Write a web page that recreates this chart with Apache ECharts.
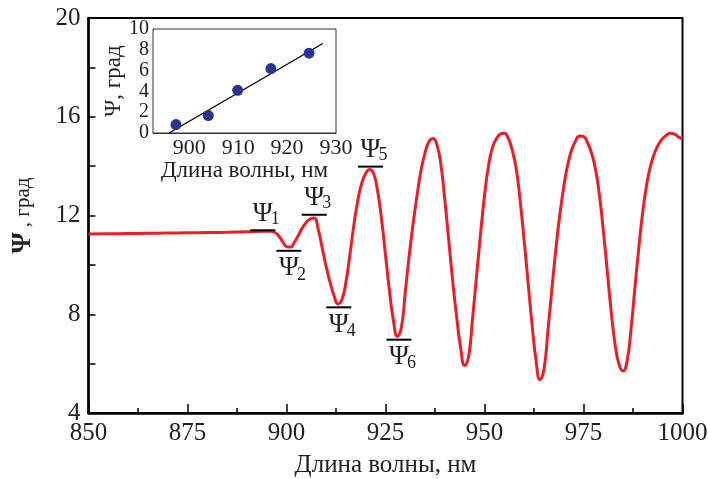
<!DOCTYPE html>
<html><head><meta charset="utf-8">
<script src="https://cdn.jsdelivr.net/npm/echarts@6/dist/echarts.min.js"></script>
<style>html,body{margin:0;padding:0;background:#fff}#c{width:708px;height:479px}</style>
</head><body><div id="c"></div>
<script>
// Main curve: wavelength (nm) and Ψ (deg)
const waveX = [850, 855, 860, 865, 870, 875, 880, 885, 890, 895,
  896, 897, 898, 899, 900, 901, 902, 903, 904, 905, 906, 907, 908, 909, 910,
  911, 912, 913, 914, 915, 916, 917, 918, 919, 920, 921, 922, 923, 924, 925,
  926, 927, 928, 929, 930, 931, 932, 933, 934, 935, 936, 937, 938, 939, 940,
  941, 942, 943, 944, 945, 946, 947, 948, 949, 950, 951, 952, 953, 954, 955,
  956, 957, 958, 959, 960, 961, 962, 963, 964, 965, 966, 967, 968, 969, 970,
  971, 972, 973, 974, 975, 976, 977, 978, 979, 980, 981, 982, 983, 984, 985,
  986, 987, 988, 989, 990, 991, 992, 993, 994, 995, 996, 997, 998, 999, 1000];
const waveY = [11.25, 11.26, 11.27, 11.28, 11.29, 11.3, 11.31, 11.32, 11.34, 11.36,
  11.36, 11.32, 11.18, 10.95, 10.74, 10.72, 10.92, 11.2, 11.5, 11.72, 11.86, 11.9, 11.45, 10.7, 9.95,
  9.3, 8.75, 8.42, 8.6, 9.3, 10.4, 11.6, 12.6, 13.3, 13.7, 13.86, 13.7, 13.0, 11.85, 10.4,
  8.95, 7.75, 7.1, 7.45, 8.9, 10.4, 11.7, 12.85, 13.85, 14.55, 15.0, 15.12, 14.85, 14.05, 12.6,
  10.95, 9.3, 7.85, 6.6, 5.92, 6.3, 7.85, 9.55, 11.25, 12.8, 14.0, 14.75, 15.1, 15.3, 15.33,
  15.12, 14.65, 13.9, 12.6, 11.0, 9.3, 7.6, 6.15, 5.35, 5.75, 7.3, 9.0, 10.6, 12.0, 13.15,
  14.05, 14.65, 15.02, 15.22, 15.2, 14.95, 14.55, 13.9, 12.85, 11.4, 9.75, 8.1, 6.75, 5.95, 5.7,
  6.1, 7.4, 9.1, 10.75, 12.2, 13.3, 14.05, 14.55, 14.9, 15.12, 15.26, 15.33, 15.3, 15.18, 15.1];

// Ψ markers (bar level, label below or above)
const psiIdx = ['1', '2', '3', '4', '5', '6'];
const psiX = [894, 900.6, 907.0, 913.2, 921.2, 928.4];
const psiY = [11.4, 10.57, 12.03, 8.28, 13.98, 6.97];
const psiSide = [1, -1, 1, -1, 1, -1];

// Inset: measured Ψ vs wavelength, linear fit
const insetX = [897.3, 903.9, 909.9, 916.7, 924.5];
const insetY = [0.81, 1.68, 4.1, 6.19, 7.68];
const fitX = [895.9, 927.3];
const fitY = [0, 8.6];

// Tick labels
const mainXTicks = [850, 875, 900, 925, 950, 975, 1000];
const mainYTicks = [4, 8, 12, 16, 20];
const insetXTicks = [900, 910, 920, 930];
const insetYTicks = [0, 2, 4, 6, 8, 10];

const FONT = 'Liberation Serif';
const TXT = '#222';
const plain = v => String(v);

const chart = echarts.init(document.getElementById('c'), null, {renderer: 'canvas'});

const psiData = psiX.map((x, i) => [x, psiY[i], psiSide[i]]);

chart.setOption({
  animation: false,
  backgroundColor: '#fff',
  grid: [
    {left: 88.5, top: 18, right: 25.5, bottom: 66, show: true, borderColor: '#000', borderWidth: 2, z: 0,
     containLabel: false, outerBoundsMode: 'none'},
    {left: 153, top: 29, right: 372, bottom: 346, show: true, borderColor: '#333', borderWidth: 1, backgroundColor: '#fff', z: 5,
     containLabel: false, outerBoundsMode: 'none'}
  ],
  xAxis: [
    {gridIndex: 0, type: 'value', min: 850, max: 1000, interval: 25,
     name: 'Длина волны, нм', nameLocation: 'middle', nameGap: 40,
     nameTextStyle: {fontFamily: FONT, fontSize: 25, color: TXT},
     axisLine: {lineStyle: {color: '#000', width: 2.5}},
     axisTick: {inside: true, length: 9, lineStyle: {color: '#000', width: 1.5}},
     minorTick: {show: true, splitNumber: 2, length: 5, lineStyle: {color: '#000', width: 1.5}},
     splitLine: {show: false},
     axisLabel: {fontFamily: FONT, fontSize: 25, color: TXT, margin: 8, formatter: plain,
       customValues: mainXTicks, showMinLabel: true, showMaxLabel: true}},
    {gridIndex: 1, type: 'value', min: 892.6, max: 930,
     name: 'Длина волны, нм', nameLocation: 'middle', nameGap: 23,
     nameTextStyle: {fontFamily: FONT, fontSize: 23, color: TXT},
     axisLine: {lineStyle: {color: '#333', width: 1}},
     axisTick: {inside: true, length: 5, customValues: [900, 910, 920], lineStyle: {color: '#333'}},
     splitLine: {show: false},
     axisLabel: {fontFamily: FONT, fontSize: 22, color: TXT, margin: 4, formatter: plain,
       customValues: insetXTicks, showMinLabel: true, showMaxLabel: true, hideOverlap: false}}
  ],
  yAxis: [
    {gridIndex: 0, type: 'value', min: 4, max: 20, interval: 4,
     name: '{p|Ψ}{t| , град}', nameLocation: 'middle', nameGap: 52, nameRotate: 90,
     nameTextStyle: {fontFamily: FONT, fontSize: 21, color: TXT,
       rich: {p: {fontFamily: FONT, fontSize: 27, fontWeight: 'bold', color: TXT}, t: {fontFamily: FONT, fontSize: 21, color: TXT}}},
     axisLine: {lineStyle: {color: '#000', width: 2.5}},
     axisTick: {inside: true, length: 7, lineStyle: {color: '#000', width: 1.5}},
     minorTick: {show: true, splitNumber: 2, length: 7, lineStyle: {color: '#000', width: 1.5}},
     splitLine: {show: false},
     axisLabel: {fontFamily: FONT, fontSize: 25, color: TXT, margin: 8, formatter: plain,
       customValues: mainYTicks, showMinLabel: true, showMaxLabel: true}},
    {gridIndex: 1, type: 'value', min: 0, max: 10, interval: 2,
     name: 'Ψ, град', nameLocation: 'middle', nameGap: 27, nameRotate: 90,
     nameTextStyle: {fontFamily: FONT, fontSize: 23, color: TXT},
     axisLine: {lineStyle: {color: '#333', width: 1}},
     axisTick: {inside: true, length: 5, lineStyle: {color: '#333'}},
     splitLine: {show: false},
     axisLabel: {fontFamily: FONT, fontSize: 20, lineHeight: 16, color: TXT, margin: 4, formatter: plain,
       customValues: insetYTicks, showMinLabel: true, showMaxLabel: true, hideOverlap: false}}
  ],
  series: [
    {type: 'line', xAxisIndex: 0, yAxisIndex: 0, data: waveX.map((x, i) => [x, waveY[i]]),
     smooth: 0.5, symbol: 'none', lineStyle: {color: '#ee1c25', width: 3}, z: 2},
    {type: 'custom', xAxisIndex: 0, yAxisIndex: 0, data: psiData, z: 3,
     renderItem: function (params, api) {
       const p = api.coord([api.value(0), api.value(1)]);
       const side = api.value(2);
       const idx = psiIdx[params.dataIndex];
       const children = [
         {type: 'line', shape: {x1: p[0] - 12.5, y1: p[1], x2: p[0] + 12.5, y2: p[1]}, style: {stroke: '#000', lineWidth: 2}}
       ];
       if (side > 0) {
         children.push({type: 'text', style: {text: 'Ψ', x: p[0], y: p[1] - 3, textAlign: 'center', textVerticalAlign: 'bottom', font: '27px ' + FONT, fill: TXT}});
         children.push({type: 'text', style: {text: idx, x: p[0] + 8, y: p[1] - 2, textAlign: 'left', textVerticalAlign: 'bottom', font: '18px ' + FONT, fill: TXT}});
       } else {
         children.push({type: 'text', style: {text: 'Ψ', x: p[0], y: p[1] + 4, textAlign: 'center', textVerticalAlign: 'top', font: '27px ' + FONT, fill: TXT}});
         children.push({type: 'text', style: {text: idx, x: p[0] + 8, y: p[1] + 15, textAlign: 'left', textVerticalAlign: 'top', font: '18px ' + FONT, fill: TXT}});
       }
       return {type: 'group', children: children};
     }},
    {type: 'line', xAxisIndex: 1, yAxisIndex: 1, data: fitX.map((x, i) => [x, fitY[i]]),
     symbol: 'none', lineStyle: {color: '#000', width: 1.3}, z: 6},
    {type: 'scatter', xAxisIndex: 1, yAxisIndex: 1, data: insetX.map((x, i) => [x, insetY[i]]),
     symbolSize: 11, itemStyle: {color: '#2b3494', opacity: 1}, z: 7}
  ]
});
</script>
</body></html>
